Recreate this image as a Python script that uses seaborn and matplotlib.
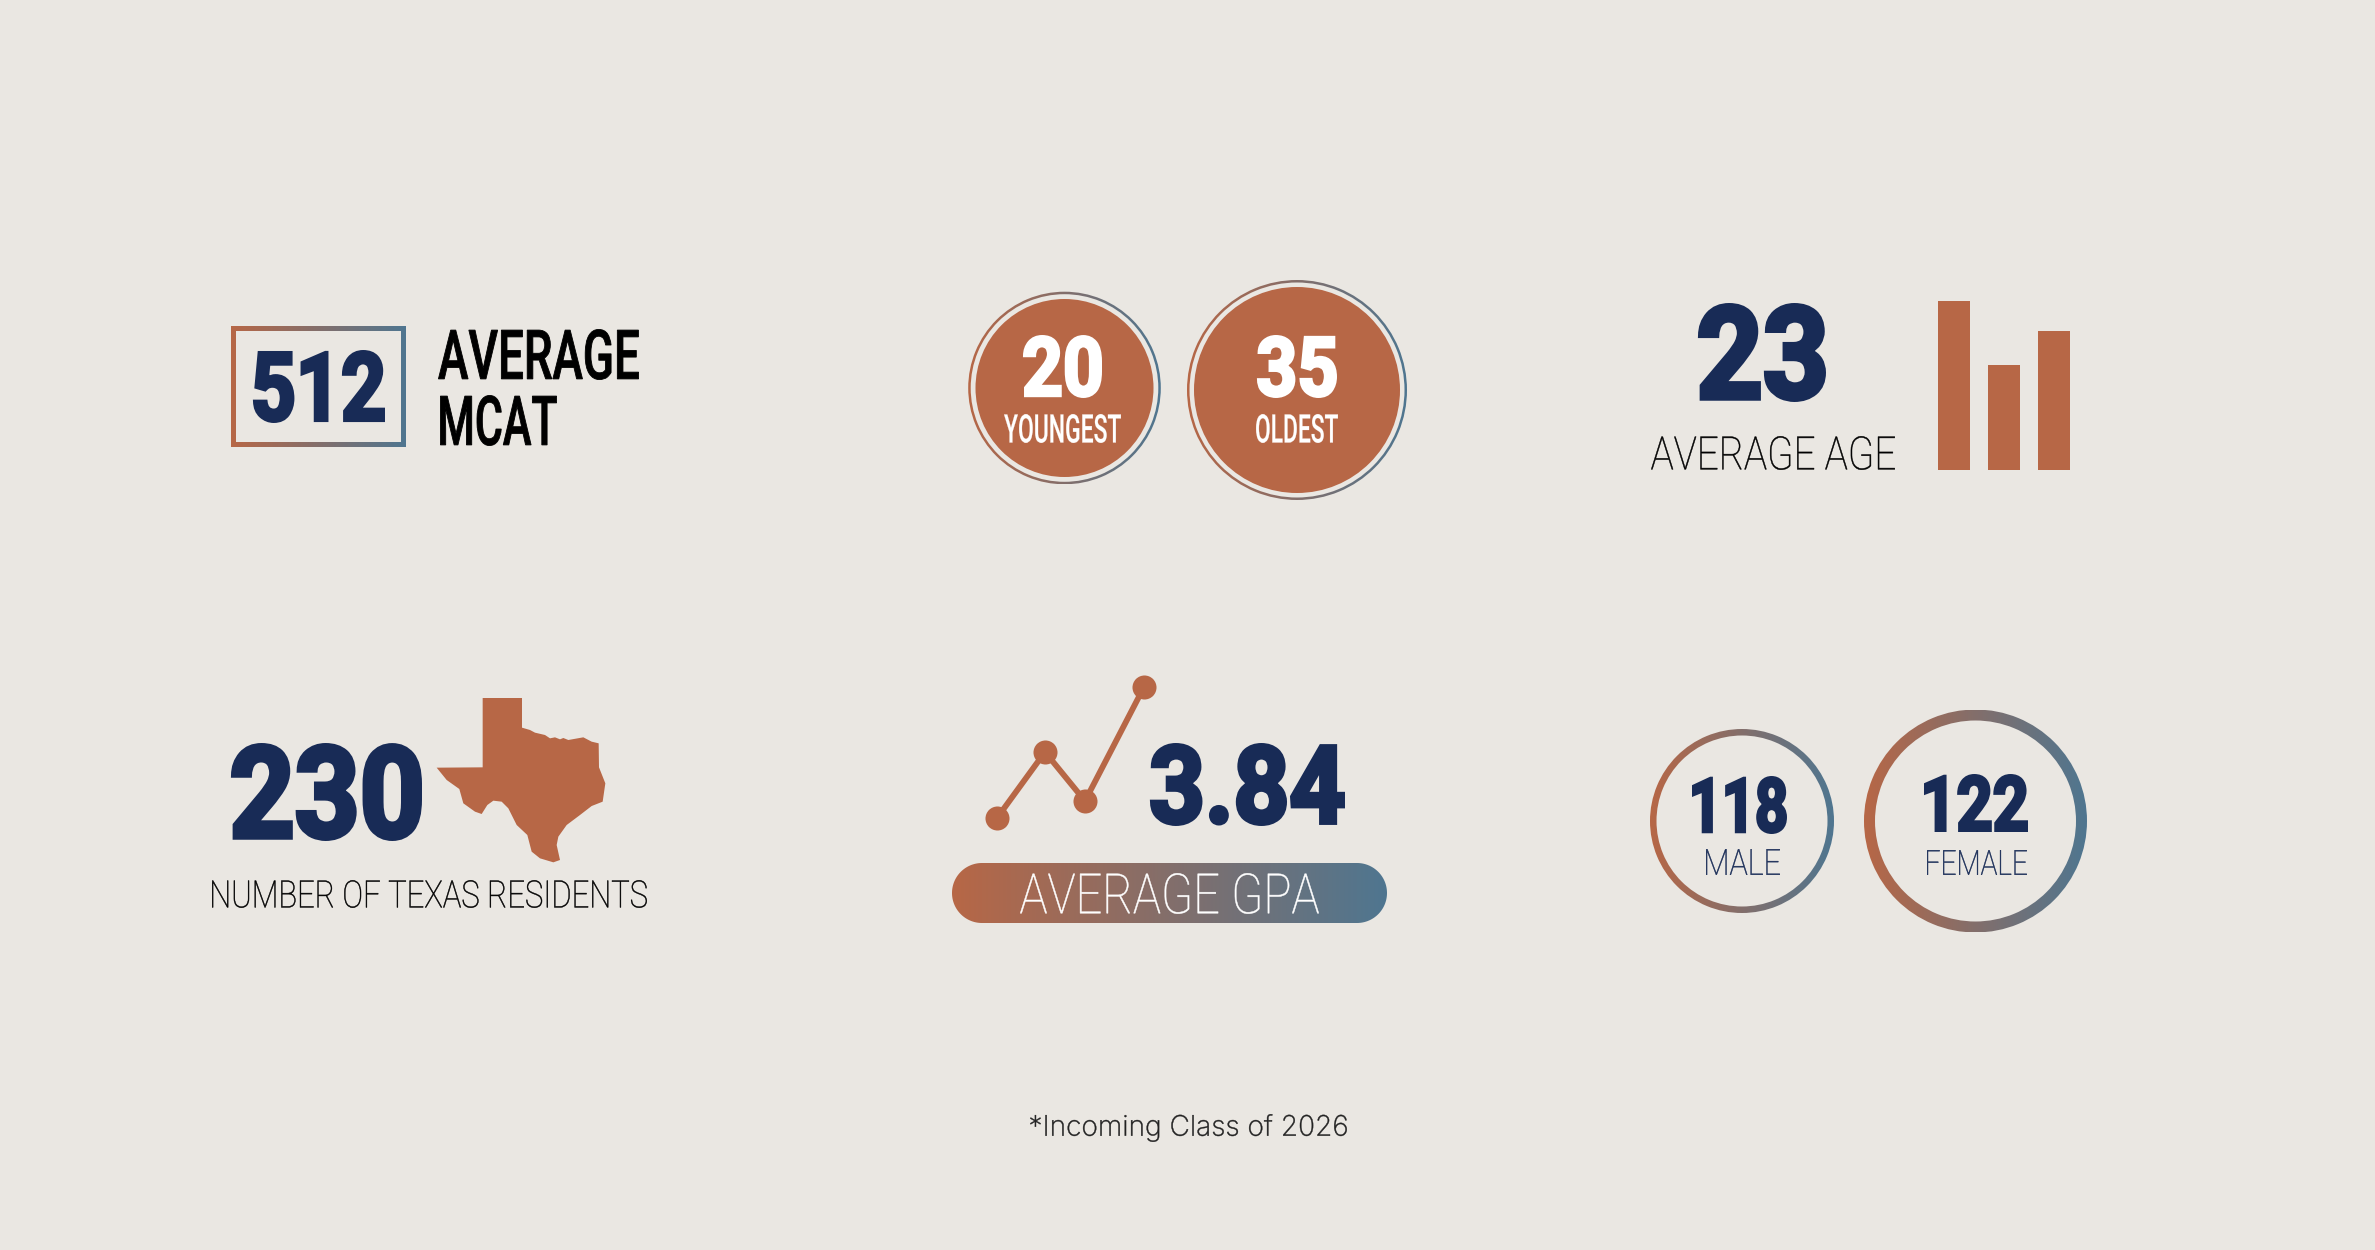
import matplotlib
matplotlib.use("Agg")
import matplotlib.pyplot as plt
import matplotlib.patheffects as pe
from matplotlib.font_manager import FontProperties
from matplotlib.patches import Circle, PathPatch, Polygon, Wedge
from matplotlib.path import Path
from matplotlib.textpath import TextPath
from matplotlib.transforms import Affine2D
import numpy as np
import pandas as pd
import seaborn as sns

# data
mcat = "512"
youngest = "20"
oldest = "35"
avg_age = "23"
texas_residents = "230"
avg_gpa = "3.84"
male = "118"
female = "122"
age_bar_values = [169, 105, 139]
gpa_x = [0, 48, 88, 147]
gpa_y = [0, 66, 17, 131]

# texas outline
texas_x = [848, 966, 966, 990, 1005, 1035, 1050, 1065, 1080, 1090, 1105, 1150, 1175, 1196, 1197, 1216,
           1208, 1175, 1140, 1100, 1075, 1070, 1080, 1060, 1020, 995, 982, 950, 925, 905, 880, 862, 845,
           825, 790, 778, 740, 710, 848]
texas_y = [54, 54, 143, 150, 158, 165, 175, 172, 178, 174, 180, 172, 185, 190, 262, 310,
           365, 378, 405, 435, 470, 495, 540, 547, 535, 515, 465, 435, 385, 365, 362, 375, 402,
           395, 370, 327, 300, 263, 262]

BG = "#EAE7E2"
RUST = "#B76746"
NAVY = "#182B56"
BLUE = "#4F7690"

sns.set_theme(style="white")
plt.rcParams["font.family"] = ["Roboto", "DejaVu Sans"]

W, H = 2375, 1250
fig = plt.figure(figsize=(W / 100, H / 100), dpi=100, facecolor=BG)
ax = fig.add_axes([0, 0, 1, 1])
ax.set_axis_off()
grad_cmap = sns.blend_palette([RUST, BLUE], as_cmap=True)
ramp = np.linspace(0, 1, 256).reshape(1, -1)


class Squeeze(pe.AbstractPathEffect):
    # no condensed font is installed, so narrow the glyphs while drawing
    def __init__(self, sx, fat):
        super().__init__()
        self.sx = sx
        self.fat = fat

    def draw_path(self, renderer, gc, tpath, affine, rgbFace=None):
        gc0 = renderer.new_gc()
        gc0.copy_properties(gc)
        gc0.set_linewidth(self.fat)
        gc0.set_foreground(rgbFace)
        gc0.set_joinstyle("miter")
        renderer.draw_path(gc0, tpath, Affine2D().scale(self.sx, 1) + affine, rgbFace)
        gc0.restore()


def px_axes(x0, y0, x1, y1):
    # inset axes given in picture pixels
    a = fig.add_axes([x0 / W, 1 - y1 / H, (x1 - x0) / W, (y1 - y0) / H])
    a.patch.set_alpha(0)
    return a


def gradient(patch, x0, y0, x1, y1):
    patch.set_facecolor("none")
    patch.set_edgecolor("none")
    ax.add_patch(patch)
    im = ax.imshow(ramp, cmap=grad_cmap, extent=(x0, x1, y1, y0), aspect="auto", zorder=1)
    im.set_clip_path(patch)


def label(s, x0, y0, x1, y1, color, weight="bold", fat=0.0, family="Roboto"):
    # fit the ink of the string into the box x0,y0,x1,y1 (picture pixels)
    prop = FontProperties(family=family, weight=weight)
    ext = TextPath((0, 0), s, size=100, prop=prop).get_extents()
    grow = fat * 100 / 72
    size_px = (y1 - y0 - grow) / ext.height * 100
    raw_w = ext.width * size_px / 100
    sx = (x1 - x0 - grow) / raw_w
    base = y1 - grow / 2 + ext.y0 * size_px / 100
    left = x0 + grow / 2 - ext.x0 * size_px / 100 * sx
    t = ax.text(left, base, s, ha="left", va="baseline", fontsize=size_px * 0.72, color=color,
                family=family, fontweight=weight, zorder=3)
    t.set_path_effects([Squeeze(sx, fat)])
    return t


def pill(x0, y0, x1, y1):
    r = (y1 - y0) / 2
    a = np.linspace(-np.pi / 2, np.pi / 2, 60)
    right = np.column_stack([x1 - r + r * np.cos(a), y0 + r + r * np.sin(a)])
    left = np.column_stack([x0 + r - r * np.cos(a), y0 + r - r * np.sin(a)])
    return Polygon(np.vstack([right, left]), closed=True)


def frame(x0, y0, x1, y1, t):
    outer = [(x0, y0), (x1, y0), (x1, y1), (x0, y1), (x0, y0)]
    inner = [(x0 + t, y0 + t), (x0 + t, y1 - t), (x1 - t, y1 - t), (x1 - t, y0 + t), (x0 + t, y0 + t)]
    codes = [Path.MOVETO, Path.LINETO, Path.LINETO, Path.LINETO, Path.CLOSEPOLY] * 2
    return PathPatch(Path(outer + inner, codes))


THIN = dict(weight="light", fat=0.35)

# 512 box
gradient(frame(231, 326, 406, 447, 4.7), 231, 326, 406, 447)
label(mcat, 253, 350, 385, 423, NAVY, fat=2.6)
label("AVERAGE", 438, 329, 639, 380, "black", weight="medium", fat=0.6)
label("MCAT", 440, 395, 557, 446, "black", weight="medium", fat=0.6)

# youngest and oldest
for cx, cy, r_out, r_in, lo, hi in [(1064.5, 388, 96.3, 89, 968, 1161), (1297, 390, 110, 103, 1187, 1407)]:
    gradient(Wedge((cx, cy), r_out, 0, 360, width=2.5), lo, cy - r_out, hi, cy + r_out)
    ax.add_patch(Circle((cx, cy), r_in, facecolor=RUST, edgecolor="none", zorder=2))
label(youngest, 1023, 335, 1102, 398, "white", fat=2.2)
label("YOUNGEST", 1004, 414, 1121, 443, "white", weight="medium", fat=0.15)
label(oldest, 1257, 335, 1337, 398, "white", fat=2.2)
label("OLDEST", 1256, 414, 1338, 443, "white", weight="medium", fat=0.15)

# average age
label(avg_age, 1698, 303, 1826, 402, NAVY, fat=3.6)
label("AVERAGE AGE", 1651, 436, 1895, 470, "black", **THIN)
bar_ax = px_axes(1929, 301, 2079, 470)
sns.barplot(x=["a", "b", "c"], y=age_bar_values, color=RUST, saturation=1, width=0.64,
            edgecolor="none", linewidth=0, ax=bar_ax)
bar_ax.set_xlim(-0.5, 2.5)
bar_ax.set_ylim(0, max(age_bar_values))
bar_ax.set_axis_off()

# texas residents
label(texas_residents, 231, 743, 422, 841, NAVY, fat=3.6)
ax.add_patch(Polygon(np.column_stack([200 + np.array(texas_x) / 3, 680 + np.array(texas_y) / 3]),
                     closed=True, facecolor=RUST, edgecolor="none", zorder=2))
label("NUMBER OF TEXAS RESIDENTS", 212, 880, 647, 908, "black", **THIN)

# gpa
gpa_ax = px_axes(997, 687, 1144, 818)
gpa_df = pd.DataFrame({"x": gpa_x, "y": gpa_y})
sns.lineplot(data=gpa_df, x="x", y="y", color=RUST, linewidth=4.2, marker="o", markersize=17.3,
             markeredgewidth=0, sort=False, errorbar=None, ax=gpa_ax, clip_on=False)
gpa_ax.set_xlim(min(gpa_x), max(gpa_x))
gpa_ax.set_ylim(min(gpa_y), max(gpa_y))
gpa_ax.set_axis_off()
label(avg_gpa, 1150, 743, 1345, 826, NAVY, fat=3.1)
gradient(pill(952, 863, 1387, 923), 952, 863, 1387, 923)
label("AVERAGE GPA", 1020, 873, 1319, 914, "white", **THIN)

# male and female
gradient(Wedge((1742, 821), 92, 0, 360, width=6.5), 1650, 729, 1834, 913)
gradient(Wedge((1975.5, 821), 111.5, 0, 360, width=11), 1864, 710, 2087, 932)
label(male, 1692, 776, 1787, 834, NAVY, fat=2.2)
label("MALE", 1706, 849, 1780, 875, NAVY, **THIN)
label(female, 1924, 774, 2028, 832, NAVY, fat=2.2)
label("FEMALE", 1927, 850, 2027, 875, NAVY, **THIN)

# footnote
label("*Incoming Class of 2026", 1030, 1114, 1347, 1142, "#222222", family="Inter", weight="light", fat=0.3)

ax.set_xlim(0, W)
ax.set_ylim(H, 0)
fig.savefig("out.png", dpi=100, facecolor=BG)
